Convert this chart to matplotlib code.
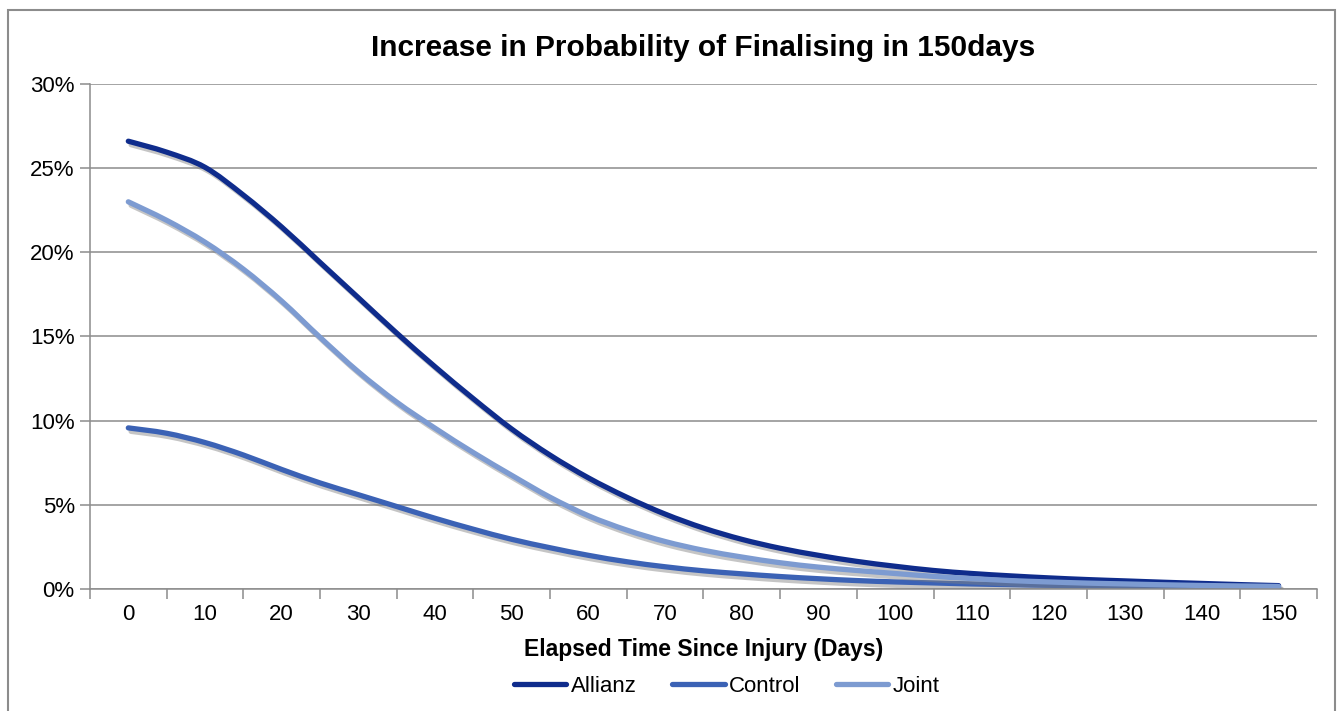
import matplotlib
matplotlib.use("Agg")
import matplotlib.pyplot as plt
import matplotlib.patheffects as pe
from matplotlib.lines import Line2D
from matplotlib.patches import PathPatch, Rectangle
from matplotlib.path import Path
from matplotlib.ticker import FuncFormatter, MultipleLocator

# data (every 5 days)
days = [0, 5, 10, 15, 20, 25, 30, 35, 40, 45, 50, 55, 60, 65, 70, 75,
        80, 85, 90, 95, 100, 105, 110, 115, 120, 125, 130, 135, 140, 145, 150]
allianz = [26.6, 25.95, 25.05, 23.4, 21.5, 19.4, 17.3, 15.2, 13.2, 11.3, 9.5,
           7.95, 6.6, 5.45, 4.45, 3.62, 2.95, 2.42, 2.0, 1.64, 1.35, 1.1, 0.92,
           0.78, 0.66, 0.56, 0.48, 0.4, 0.33, 0.26, 0.2]
control = [9.57, 9.25, 8.7, 7.96, 7.1, 6.3, 5.6, 4.9, 4.2, 3.55, 2.95,
           2.45, 2.0, 1.62, 1.32, 1.08, 0.9, 0.74, 0.61, 0.5, 0.42, 0.36,
           0.3, 0.26, 0.22, 0.19, 0.17, 0.15, 0.13, 0.11, 0.1]
joint = [23.0, 21.9, 20.6, 19.0, 17.1, 14.95, 12.9, 11.1, 9.55, 8.1, 6.75,
         5.45, 4.35, 3.5, 2.82, 2.3, 1.9, 1.56, 1.3, 1.1, 0.92, 0.75, 0.62,
         0.5, 0.42, 0.35, 0.3, 0.25, 0.21, 0.18, 0.15]
x_labels = list(range(0, 151, 10))

COLOR_ALLIANZ = "#0F2C8C"
COLOR_CONTROL = "#3B62B5"
COLOR_JOINT = "#7D9BD1"
COLOR_GRID = "#8C8C8C"

plt.rcParams["font.family"] = ["Liberation Sans", "DejaVu Sans"]


def smooth_path(xs, ys):
    """Excelの「スムージング」風: 点を通るベジェ曲線のPathを作る。"""
    pts = list(zip(xs, ys))
    verts = [pts[0]]
    codes = [Path.MOVETO]
    n = len(pts)
    for i in range(n - 1):
        p0 = pts[i - 1] if i > 0 else pts[i]
        p1 = pts[i]
        p2 = pts[i + 1]
        p3 = pts[i + 2] if i + 2 < n else pts[i + 1]
        c1 = (p1[0] + (p2[0] - p0[0]) / 6, p1[1] + (p2[1] - p0[1]) / 6)
        c2 = (p2[0] - (p3[0] - p1[0]) / 6, p2[1] - (p3[1] - p1[1]) / 6)
        verts += [c1, c2, p2]
        codes += [Path.CURVE4] * 3
    return Path(verts, codes)


fig = plt.figure(figsize=(13.43, 7.11), dpi=100)
ax = fig.add_axes([0.067, 0.1716, 0.9136, 0.7103])

# chart border (Excel style)
fig.patches.append(Rectangle((8 / 1343, -0.05), 1327 / 1343, 1 - 10 / 711 + 0.05,
                             transform=fig.transFigure, fill=False,
                             edgecolor="#8C8C8C", linewidth=1.5))

shadow = [pe.SimpleLineShadow(offset=(2, -2.5), shadow_color="#7F7F7F", alpha=0.45),
          pe.Normal()]
handles = []
for vals, color, name in [(allianz, COLOR_ALLIANZ, "Allianz"),
                          (control, COLOR_CONTROL, "Control"),
                          (joint, COLOR_JOINT, "Joint")]:
    patch = PathPatch(smooth_path(days, vals), fill=False, edgecolor=color,
                      linewidth=3.8, capstyle="round", joinstyle="round",
                      path_effects=shadow)
    ax.add_patch(patch)
    handles.append(Line2D([], [], color=color, linewidth=3.8,
                          solid_capstyle="round", label=name))

ax.set_xlim(-5, 155)
ax.set_ylim(0, 30)
ax.yaxis.set_major_locator(MultipleLocator(5))
ax.yaxis.set_major_formatter(FuncFormatter(lambda v, _: f"{v:.0f}%"))
ax.grid(axis="y", color=COLOR_GRID, linewidth=1.1)
ax.set_axisbelow(True)

ax.set_xticks(x_labels)
ax.set_xticklabels([str(v) for v in x_labels])
ax.set_xticks([v + 5 for v in range(-10, 151, 10)], minor=True)
ax.tick_params(axis="x", which="major", length=0, labelsize=16, pad=11)
ax.tick_params(axis="x", which="minor", length=7, width=1.1, color=COLOR_GRID)
ax.tick_params(axis="y", length=7, width=1.1, color=COLOR_GRID, labelsize=16, pad=4)

for side in ["top", "right"]:
    ax.spines[side].set_visible(False)
for side in ["left", "bottom"]:
    ax.spines[side].set_color(COLOR_GRID)
    ax.spines[side].set_linewidth(1.1)

ax.set_title("Increase in Probability of Finalising in 150days",
             fontsize=21.5, fontweight="bold", pad=20)
ax.set_xlabel("Elapsed Time Since Injury (Days)", fontsize=16.5,
              fontweight="bold", labelpad=9)

fig.legend(handles=handles, loc="center", bbox_to_anchor=(727 / 1343, 1 - 686 / 711),
           ncol=3, frameon=False, fontsize=16, handlelength=2.35,
           handletextpad=0.2, columnspacing=1.6)

fig.savefig("out.png", dpi=100)
